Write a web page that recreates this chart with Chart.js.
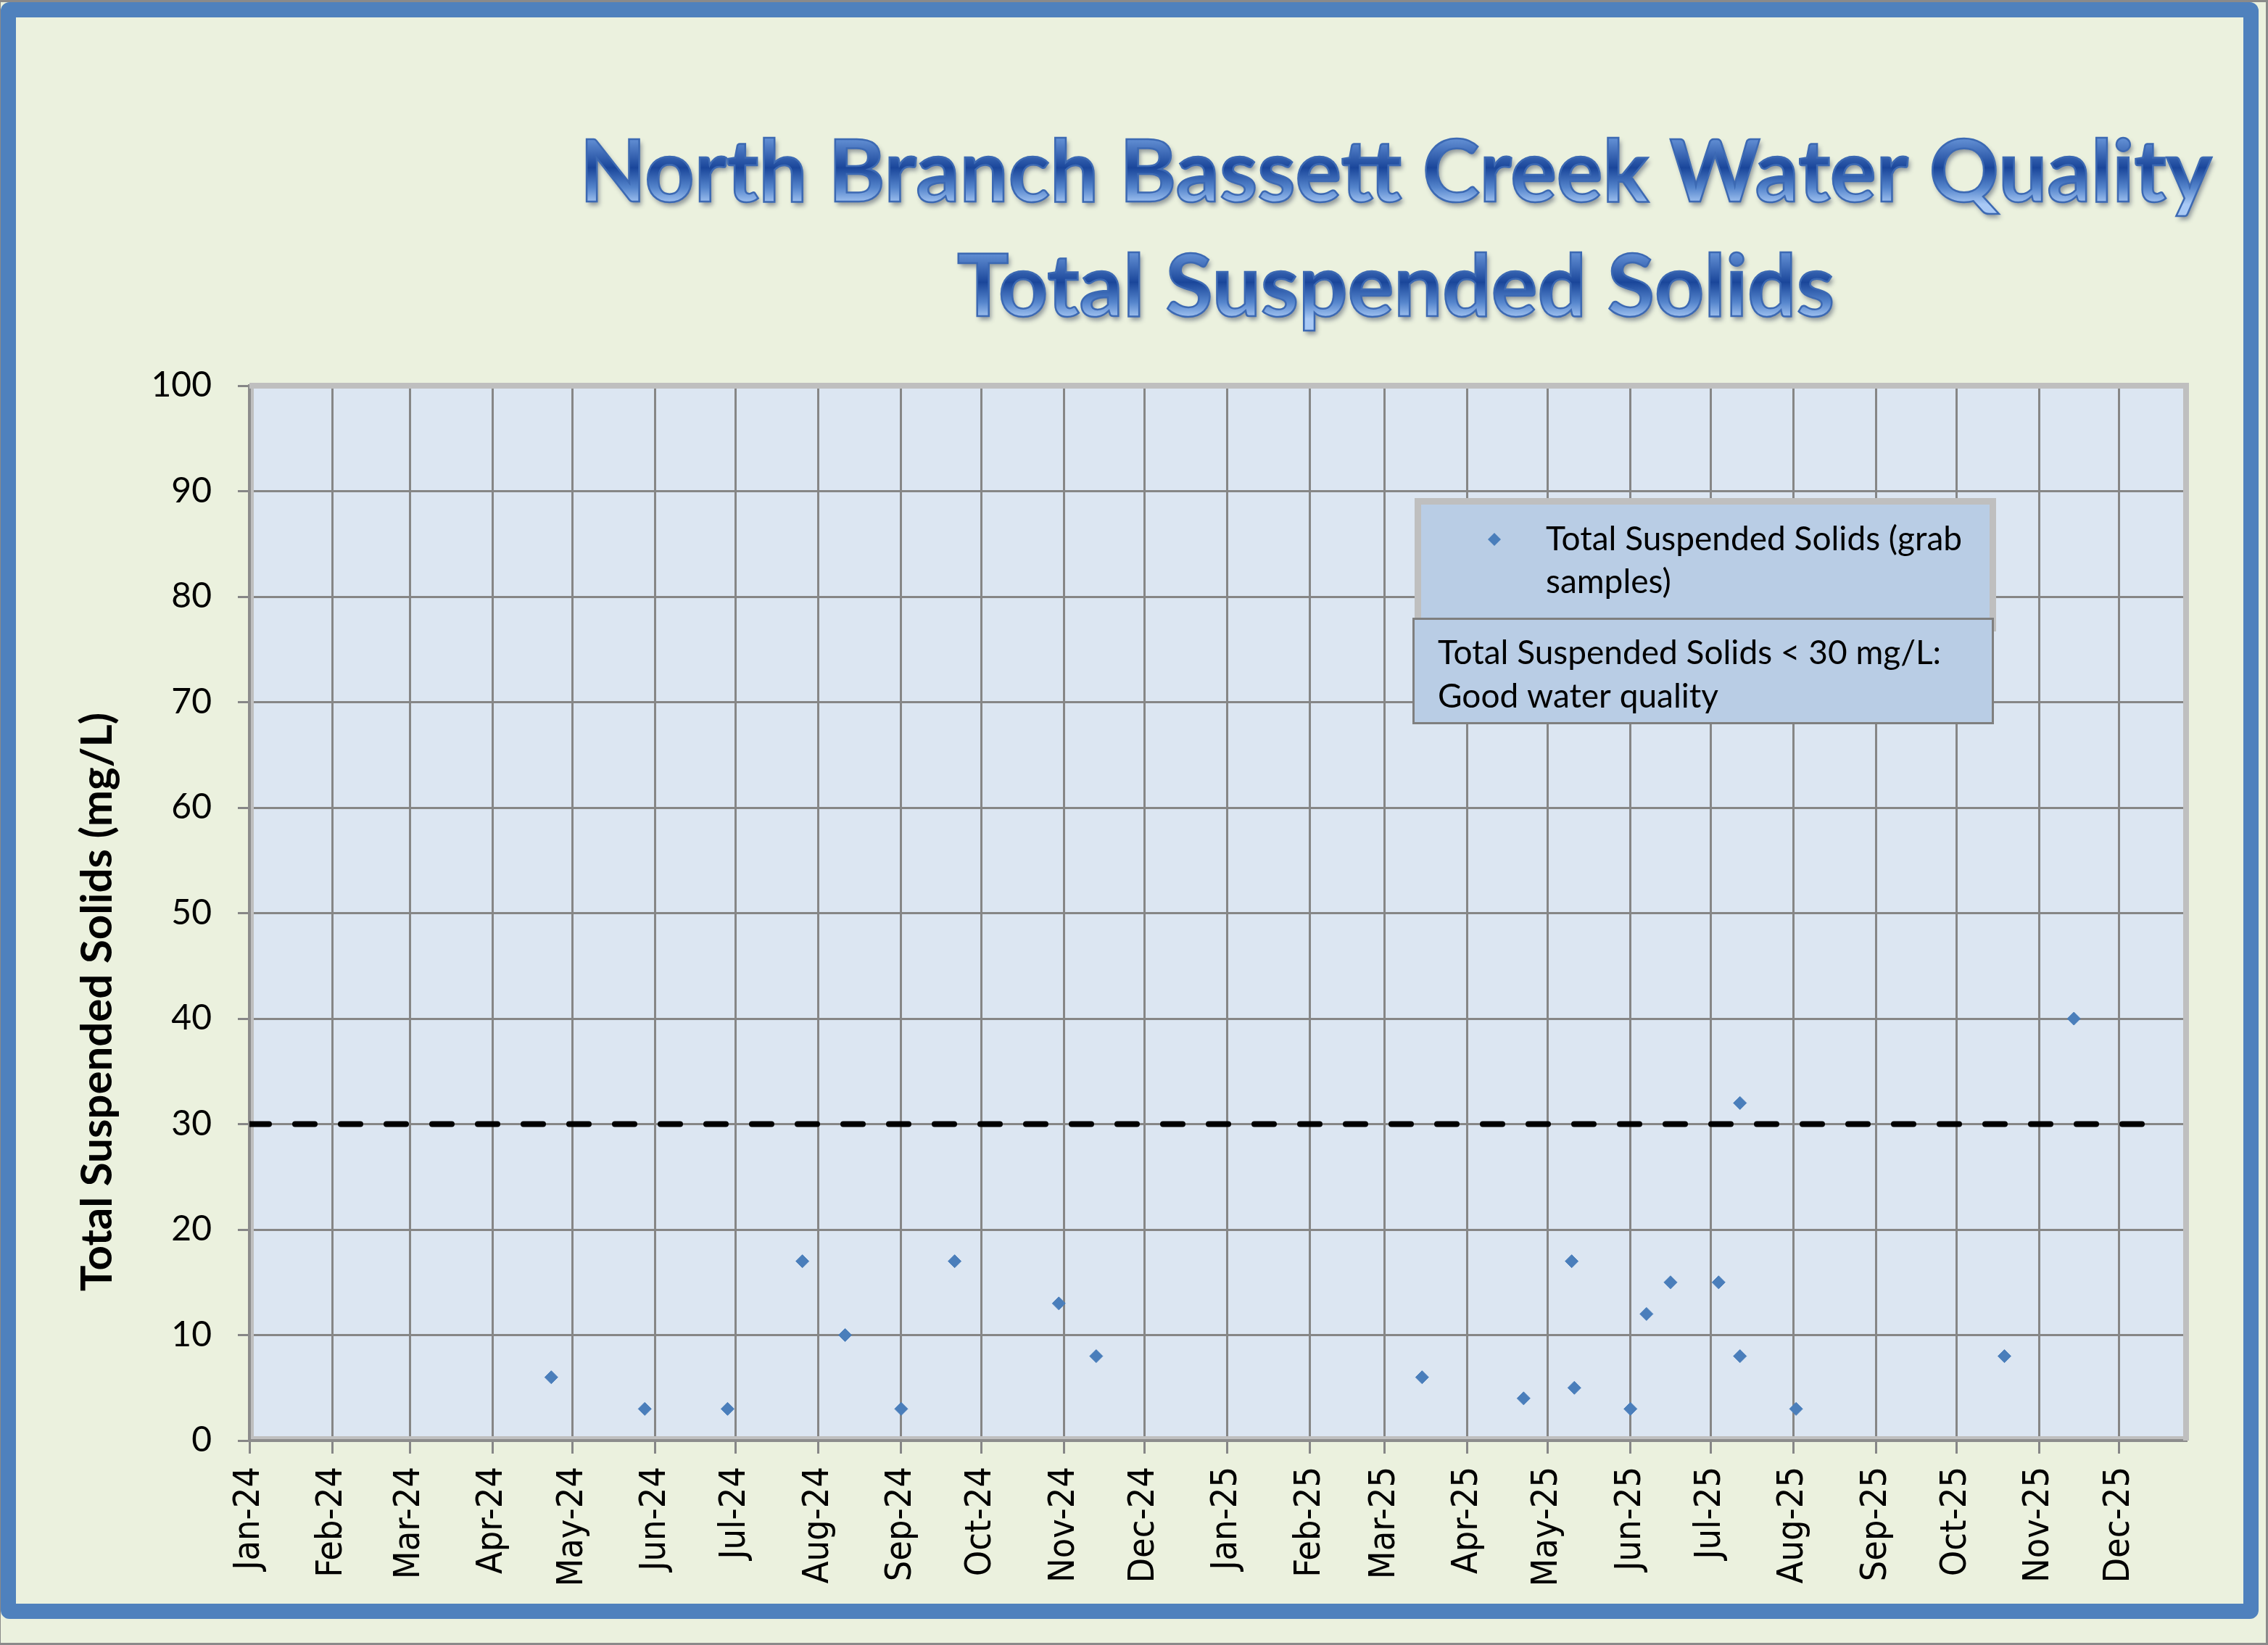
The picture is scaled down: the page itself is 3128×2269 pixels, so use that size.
<!DOCTYPE html>
<html>
<head>
<meta charset="utf-8">
<title>North Branch Bassett Creek Water Quality - Total Suspended Solids</title>
<script src="https://cdn.jsdelivr.net/npm/chart.js@4.4.1/dist/chart.umd.min.js"></script>
<style>
  html, body { margin: 0; padding: 0; background: #ebf1de; }
  #edge { position: absolute; left: 0; top: 0; width: 3128px; height: 2269px; box-sizing: border-box; border: 3px solid #8a8a8a; border-left-width: 1px; }
  #frame { position: absolute; left: 1px; top: 3px; width: 3114px; height: 2230px; box-sizing: border-box;
           border: 21px solid #4f81bd; border-radius: 12px; background: #ebf1de; }
  #wrap { position: absolute; left: 0; top: 0; width: 3128px; height: 2269px; }
  #tss-chart { display: block; }
</style>
</head>
<body>
<div id="edge"></div>
<div id="frame"></div>
<div id="wrap"><canvas id="tss-chart" width="3128" height="2269"></canvas></div>
<script>
// grab sample dates and results (mg/L)
const sampleDates = [
  '2024-04-23', '2024-05-28', '2024-06-28', '2024-07-26', '2024-08-11', '2024-09-01',
  '2024-09-21', '2024-10-30', '2024-11-13',
  '2025-03-15', '2025-04-22', '2025-05-10', '2025-05-11', '2025-06-01', '2025-06-07',
  '2025-06-16', '2025-07-04', '2025-07-12', '2025-07-12', '2025-08-02', '2025-10-19',
  '2025-11-14'
];
const tssValues = [6, 3, 3, 17, 10, 3, 17, 13, 8, 6, 4, 17, 5, 3, 12, 15, 15, 32, 8, 3, 8, 40];

const monthLabels = [
  'Jan-24', 'Feb-24', 'Mar-24', 'Apr-24', 'May-24', 'Jun-24', 'Jul-24', 'Aug-24', 'Sep-24', 'Oct-24', 'Nov-24', 'Dec-24',
  'Jan-25', 'Feb-25', 'Mar-25', 'Apr-25', 'May-25', 'Jun-25', 'Jul-25', 'Aug-25', 'Sep-25', 'Oct-25', 'Nov-25', 'Dec-25'
];
const yTicks = [0, 10, 20, 30, 40, 50, 60, 70, 80, 90, 100];

const goodLimit = 30;
const limitRange = ['2024-01-01', '2025-12-13'];
const axisStart = '2024-01-01';
const axisEnd = '2025-12-26';

const titleLines = ['North Branch Bassett Creek Water Quality', 'Total Suspended Solids'];
const yAxisTitle = 'Total Suspended Solids (mg/L)';
const seriesLabel = 'Total Suspended Solids (grab samples)';
const legendLines = ['Total Suspended Solids (grab', 'samples)'];
const noteLines = ['Total Suspended Solids < 30 mg/L:', 'Good water quality'];

// days since 1 Jan 2024, used as the x value
function dayOf(s) {
  const [y, m, d] = s.split('-').map(Number);
  return (Date.UTC(y, m - 1, d) - Date.UTC(2024, 0, 1)) / 86400000;
}
const monthDays = monthLabels.map((_, i) => (Date.UTC(2024, i, 1) - Date.UTC(2024, 0, 1)) / 86400000);

const points = sampleDates.map((d, i) => ({ x: dayOf(d), y: tssValues[i] }));
const limitLine = limitRange.map(d => ({ x: dayOf(d), y: goodLimit }));

const pointBlue = '#4a7ebb';
const gridGrey = '#868686';

function diamond(ctx, x, y, r) {
  ctx.beginPath();
  ctx.moveTo(x, y - r);
  ctx.lineTo(x + r, y);
  ctx.lineTo(x, y + r);
  ctx.lineTo(x - r, y);
  ctx.closePath();
  ctx.fill();
}

const plotBackground = {
  id: 'plotBackground',
  beforeDraw(chart) {
    const { ctx, chartArea: a } = chart;
    ctx.save();
    ctx.fillStyle = '#dce6f2';
    ctx.fillRect(a.left, a.top, a.right - a.left, a.bottom - a.top);
    ctx.restore();
  },
  beforeDatasetsDraw(chart) {
    // light grey frame on top/right, soft shadow next to the axes
    const { ctx, chartArea: a } = chart;
    ctx.save();
    ctx.strokeStyle = '#bfbfbf';
    ctx.lineWidth = 8;
    ctx.beginPath();
    ctx.moveTo(a.left, a.top);
    ctx.lineTo(a.right, a.top);
    ctx.lineTo(a.right, a.bottom);
    ctx.stroke();
    ctx.lineWidth = 4;
    ctx.beginPath();
    ctx.moveTo(a.left + 4, a.top);
    ctx.lineTo(a.left + 4, a.bottom - 4);
    ctx.lineTo(a.right, a.bottom - 4);
    ctx.stroke();
    ctx.restore();
  }
};

const fancyTitle = {
  id: 'fancyTitle',
  afterDraw(chart) {
    const ctx = chart.ctx;
    const cx = 1925;
    const baselines = [278, 436];
    ctx.save();
    ctx.font = 'bold 119px Lato';
    ctx.textAlign = 'center';
    ctx.textBaseline = 'alphabetic';
    titleLines.forEach((line, i) => {
      const b = baselines[i];
      const g = ctx.createLinearGradient(0, b - 88, 0, b + 4);
      g.addColorStop(0, '#6592d6');
      g.addColorStop(0.45, '#1a469a');
      g.addColorStop(0.75, '#5585cc');
      g.addColorStop(1, '#a9c9f5');
      ctx.shadowColor = 'rgba(30, 40, 70, 0.45)';
      ctx.shadowOffsetX = 3;
      ctx.shadowOffsetY = 5;
      ctx.shadowBlur = 6;
      ctx.fillStyle = g;
      ctx.fillText(line, cx, b);
      ctx.shadowColor = 'transparent';
      ctx.lineWidth = 2.5;
      ctx.strokeStyle = '#3c69b3';
      ctx.strokeText(line, cx, b);
    });
    ctx.restore();

    // y axis title
    ctx.save();
    ctx.translate(135, 1382);
    ctx.rotate(-Math.PI / 2);
    ctx.font = 'bold 60px Lato';
    ctx.fillStyle = '#000';
    ctx.textAlign = 'center';
    ctx.textBaseline = 'middle';
    ctx.fillText(yAxisTitle, 0, 0);
    ctx.restore();
  }
};

const boxedLegend = {
  id: 'boxedLegend',
  afterDraw(chart) {
    const ctx = chart.ctx;
    const ds = chart.data.datasets[0];
    ctx.save();
    // legend box
    ctx.fillStyle = '#b9cde5';
    ctx.strokeStyle = '#bfbfbf';
    ctx.lineWidth = 9;
    ctx.beginPath();
    ctx.rect(1955.5, 691.5, 793, 175);
    ctx.fill();
    ctx.stroke();
    ctx.fillStyle = ds.backgroundColor;
    diamond(ctx, 2061, 744, 9);
    ctx.fillStyle = '#000';
    ctx.font = '46px Lato';
    ctx.textBaseline = 'alphabetic';
    legendLines.forEach((t, i) => ctx.fillText(t, 2132, 759 + i * 59));

    // note box
    ctx.fillStyle = '#b9cde5';
    ctx.strokeStyle = '#7f7f7f';
    ctx.lineWidth = 3;
    ctx.beginPath();
    ctx.rect(1949.5, 853.5, 799, 144);
    ctx.fill();
    ctx.stroke();
    ctx.fillStyle = '#000';
    noteLines.forEach((t, i) => ctx.fillText(t, 1983, 916 + i * 60));
    ctx.restore();
  }
};

const ctx = document.getElementById('tss-chart').getContext('2d');
new Chart(ctx, {
  type: 'scatter',
  data: {
    datasets: [{
      label: seriesLabel,
      data: points,
      pointStyle: 'rectRot',
      pointRadius: 9,
      pointHoverRadius: 9,
      backgroundColor: pointBlue,
      borderColor: pointBlue,
      borderWidth: 1,
      order: 1
    }, {
      type: 'line',
      label: 'Good water quality limit',
      data: limitLine,
      borderColor: '#000',
      borderWidth: 8,
      borderDash: [27, 36],
      borderCapStyle: 'round',
      pointRadius: 0,
      fill: false,
      order: 2
    }]
  },
  options: {
    responsive: false,
    animation: false,
    devicePixelRatio: 1,
    layout: { padding: { left: 0, top: 532, right: 113, bottom: 42 } },
    plugins: {
      legend: { display: false },
      title: { display: false },
      tooltip: { enabled: false }
    },
    scales: {
      x: {
        type: 'linear',
        min: dayOf(axisStart),
        max: dayOf(axisEnd),
        afterBuildTicks: scale => { scale.ticks = monthDays.map(v => ({ value: v })); },
        afterFit: scale => { scale.height = 240; },
        grid: { color: gridGrey, lineWidth: 3, tickLength: 18, drawTicks: true },
        border: { color: '#8c8c8c', width: 4 },
        ticks: {
          autoSkip: false,
          minRotation: 90,
          maxRotation: 90,
          padding: 18,
          color: '#000',
          font: { family: "'DejaVu Sans Condensed', 'DejaVu Sans'", size: 50 },
          callback: (v, i) => monthLabels[i]
        }
      },
      y: {
        min: 0,
        max: 100,
        afterBuildTicks: scale => { scale.ticks = yTicks.map(v => ({ value: v })); },
        afterFit: scale => { scale.width = 344; },
        grid: { color: gridGrey, lineWidth: 3, tickLength: 16 },
        border: { color: '#8c8c8c', width: 4 },
        ticks: {
          padding: 36,
          color: '#000',
          font: { family: 'Lato', size: 48 }
        }
      }
    }
  },
  plugins: [plotBackground, fancyTitle, boxedLegend]
});
</script>
</body>
</html>
